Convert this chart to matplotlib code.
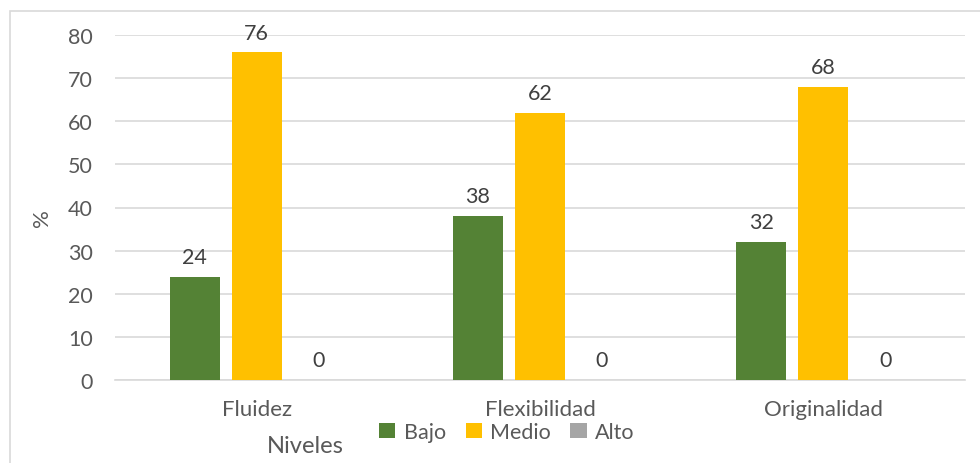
#!/usr/bin/env python3
'''Bar chart of creativity levels (Bajo / Medio / Alto)'''
import numpy as np
import matplotlib
matplotlib.use('Agg')
import matplotlib.pyplot as plt
from matplotlib.patches import Rectangle

categories = ['Fluidez', 'Flexibilidad', 'Originalidad']
series_names = ['Bajo', 'Medio', 'Alto']
bajo = [24, 38, 32]
medio = [76, 62, 68]
alto = [0, 0, 0]
colors = ['#548235', '#FFC000', '#A5A5A5']
yticks = [0, 10, 20, 30, 40, 50, 60, 70, 80]

plt.rcParams['font.family'] = ['Lato', 'DejaVu Sans']
text_color = '#595959'

fig = plt.figure(figsize=(9.8, 4.64), dpi=100)
ax = fig.add_axes([115 / 980, 83 / 464, 850 / 980, 345 / 464])

# outer chart border
fig.patches.append(Rectangle((10 / 980, -0.05), 1.2, 1 - 12 / 464 + 0.05,
                             transform=fig.transFigure, fill=False,
                             edgecolor='#D9D9D9', linewidth=1.2))

x = np.arange(len(categories))
width = 50 / 283.3
step = 62 / 283.3
for i, (name, vals) in enumerate(zip(series_names, [bajo, medio, alto])):
    bars = ax.bar(x + (i - 1) * step, vals, width, color=colors[i], label=name,
                  zorder=3)
    for rect, v in zip(bars, vals):
        ax.annotate(f'{v}', (rect.get_x() + rect.get_width() / 2, v),
                    xytext=(0, 7), textcoords='offset points',
                    ha='center', va='bottom', fontsize=15.5, color='#404040')

ax.set_xlim(-0.5, 2.5)
ax.set_ylim(0, 80)
ax.set_yticks(yticks)
ax.set_xticks(x)
ax.set_xticklabels(categories)
ax.yaxis.grid(True, color='#D9D9D9', linewidth=1.2, zorder=0)
ax.tick_params(axis='both', length=0, colors=text_color)
ax.tick_params(axis='y', pad=16, labelsize=15.5)
ax.tick_params(axis='x', pad=14, labelsize=16)
for side in ['top', 'right', 'left']:
    ax.spines[side].set_visible(False)
ax.spines['bottom'].set_color('#D9D9D9')
ax.spines['bottom'].set_linewidth(1.2)

fig.text(42 / 980, 1 - 218 / 464, '%', rotation=90, ha='center', va='center',
         fontsize=16, color=text_color)
fig.text(305 / 980, 1 - 447 / 464, 'Niveles', ha='center', va='center',
         fontsize=17, color=text_color)

ax.legend(loc='center', bbox_to_anchor=(507 / 980, 1 - 433 / 464),
          bbox_transform=fig.transFigure, ncol=3, frameon=False,
          fontsize=15.5, handlelength=0.75, handleheight=0.75,
          handletextpad=0.4, columnspacing=0.9, labelcolor=text_color,
          borderpad=0)

plt.savefig('out.png', dpi=100)
